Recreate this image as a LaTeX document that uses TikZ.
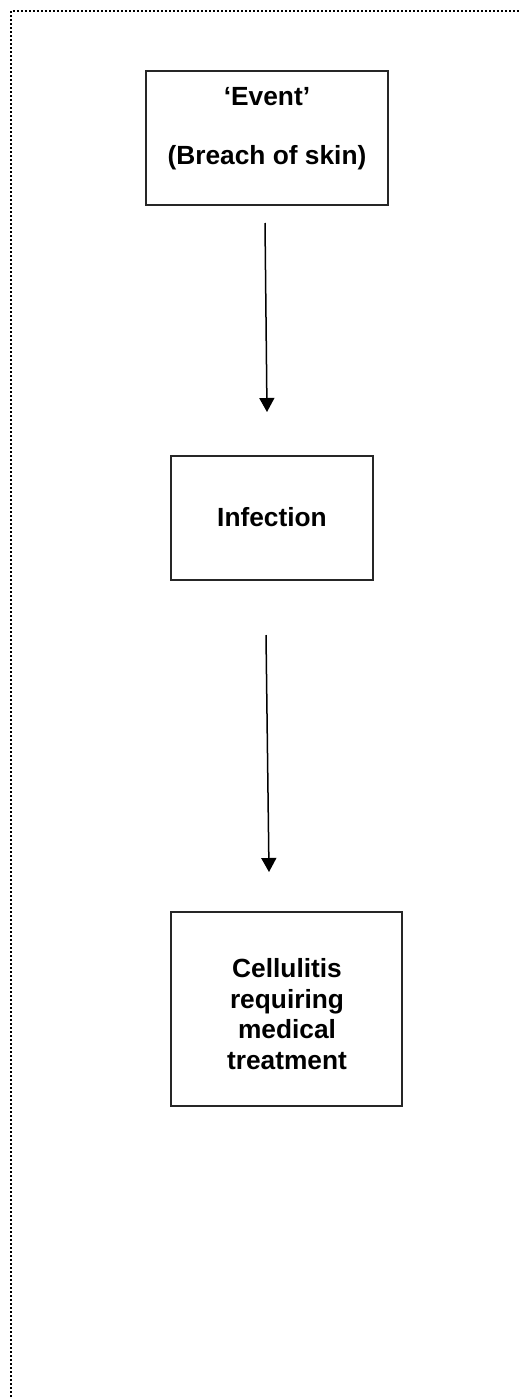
\documentclass[tikz,border=0pt]{standalone}
\usepackage{fontspec}
\setmainfont{Liberation Sans}
\usetikzlibrary{arrows.meta}
\begin{document}
\begin{tikzpicture}[x=1pt,y=-1pt,
  box/.style={draw=black!85,line width=2pt,inner sep=0pt,minimum width=#1},
  txt/.style={font=\fontsize{26.3}{30.5}\selectfont\bfseries,align=center,inner sep=0pt},
  conn/.style={line width=1.5pt,-{Triangle[width=15pt,length=14pt]}},
  frame/.style={line width=1.6pt,dash pattern=on 2pt off 2pt}]
\useasboundingbox (0,0) rectangle (520,1397);
% dotted frame (top and left)
\coordinate (fc) at (11,11);
\coordinate (fr) at (520,11);
\coordinate (fb) at (11,1397);
\draw[frame] (fb) -- (fc) -- (fr);
% boxes
\node[box=242pt,minimum height=134pt] (b1) at (267,138) {};
\node[box=202pt,minimum height=124pt] (b2) at (272,518) {};
\node[box=231pt,minimum height=194pt] (b3) at (286.5,1009) {};
% texts
\node[txt] (t1a) at (267,97) {‘Event’};
\node[txt] (t1b) at (267,158) {(Breach of skin)};
\node[txt] (t2) at (272,517) {Infection};
\node[txt] (t3) at (287,1014) {Cellulitis\\requiring\\medical\\treatment};
% arrows
\coordinate (a1s) at (265,223);
\coordinate (a1e) at (267,412);
\coordinate (a2s) at (266,635);
\coordinate (a2e) at (269,872);
\draw[conn] (a1s) -- (a1e);
\draw[conn] (a2s) -- (a2e);
\end{tikzpicture}
\end{document}
